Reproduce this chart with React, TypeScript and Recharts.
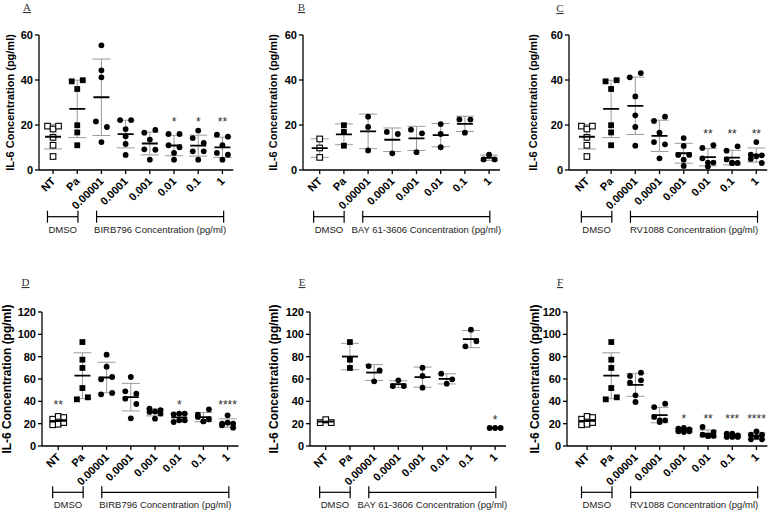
import React from "react"
import { ComposedChart, ErrorBar, Scatter, XAxis, YAxis } from "recharts"

const categories = ["NT", "Pa", "0.00001", "0.0001", "0.001", "0.01", "0.1", "1"]

// controls shared by A/C and D/F
const ntTop = [19.5, 18.2, 19.5, 14.5, 11.0, 6.0]
const paTop = [39.4, 39.9, 36.0, 19.9, 16.7, 11.0]
const ntBottom = [24.0, 26.5, 25.5, 19.0, 19.5, 21.0]
const paBottom = [93.1, 77.3, 69.9, 51.9, 41.8, 43.6]

const valuesA = [
  ntTop,
  paTop,
  [55.4, 44.3, 41.2, 21.6, 19.1, 12.4],
  [22.2, 22.2, 18.2, 15.0, 11.6, 6.7],
  [16.6, 17.8, 13.5, 9.2, 9.0, 4.6],
  [16.0, 16.0, 11.0, 10.1, 7.6, 4.6],
  [17.5, 14.2, 12.0, 8.3, 8.3, 4.6],
  [15.7, 14.8, 11.0, 7.6, 6.8, 4.6],
]
const valuesB = [
  [13.8, 9.8, 5.6],
  [19.9, 16.9, 10.8],
  [23.7, 19.1, 8.7],
  [16.9, 16.0, 7.4],
  [17.9, 16.3, 7.9],
  [20.4, 16.0, 10.1],
  [22.5, 22.4, 16.6],
  [4.7, 6.8, 4.7],
]
const valuesC = [
  ntTop,
  paTop,
  [41.2, 43.1, 32.7, 24.3, 19.1, 10.8],
  [21.8, 23.7, 16.6, 12.4, 11.4, 5.2],
  [14.2, 10.7, 6.7, 4.6, 6.7, 1.8],
  [9.8, 11.0, 5.2, 3.3, 3.3, 1.5],
  [8.6, 10.5, 4.7, 3.1, 3.1, 3.1],
  [12.4, 6.8, 6.1, 6.5, 4.9, 3.1],
]
const valuesD = [
  ntBottom,
  paBottom,
  [81.8, 71.0, 59.7, 61.8, 46.3, 47.5],
  [61.8, 49.0, 46.9, 42.4, 37.6, 24.8],
  [30.5, 33.4, 31.0, 29.0, 32.0, 24.5],
  [28.4, 29.0, 29.0, 21.5, 23.0, 23.0],
  [28.1, 32.8, 26.0, 22.1, 22.1, 23.9],
  [20.0, 27.5, 20.9, 18.5, 20.0, 16.4],
]
const valuesE = [
  [20.9, 23.6, 20.9],
  [93.1, 77.3, 69.9],
  [71.6, 67.8, 57.9],
  [53.7, 58.8, 53.7],
  [70.1, 62.7, 52.2],
  [55.8, 64.8, 59.7],
  [104.2, 89.3, 93.7],
  [16.1, 16.1, 16.1],
]
const valuesF = [
  ntBottom,
  paBottom,
  [62.7, 65.7, 56.7, 58.8, 45.4, 39.4],
  [34.9, 37.9, 26.0, 21.5, 23.0, 23.0],
  [15.5, 16.1, 14.9, 13.1, 12.5, 13.1],
  [10.1, 17.0, 12.5, 9.0, 9.0, 9.0],
  [11.0, 11.0, 9.6, 8.1, 8.1, 8.1],
  [10.1, 13.1, 10.1, 6.0, 8.1, 6.0],
]

const sigA = ["", "", "", "", "", "*", "*", "**"]
const sigB = ["", "", "", "", "", "", "", ""]
const sigC = ["", "", "", "", "", "**", "**", "**"]
const sigD = ["**", "", "", "", "", "*", "", "****"]
const sigE = ["", "", "", "", "", "", "", "*"]
const sigF = ["", "", "", "", "*", "**", "***", "****"]

const yTicksTop = [0, 20, 40, 60]
const yTicksBottom = [0, 20, 40, 60, 80, 100, 120]

const STEP = 24.2
const D1 = 7.45
const YW = 44
const MT = 8
const MR = 8
const XH = 48
const SPACING = 5.5

const ROWS = {
  top: { plotTop: 35, plotH: 135, yMax: 60, yTicks: yTicksTop, labelSize: 11, bracketY: 216.7, textY: 232.5 },
  bottom: { plotTop: 312, plotH: 134, yMax: 120, yTicks: yTicksBottom, labelSize: 12, bracketY: 492.3, textY: 508 },
}

type PanelCfg = {
  letter: string
  values: number[][]
  sig: string[]
  drug: string
  row: "top" | "bottom"
  axisX: number
  d0: number
  labelDist: number
  letterX: number
  letterY: number
}

const panels: PanelCfg[] = [
  { letter: "A", values: valuesA, sig: sigA, drug: "BIRB796 Concentration (pg/ml)", row: "top", axisX: 39, d0: -0.58, labelDist: 29, letterX: 27, letterY: 11 },
  { letter: "B", values: valuesB, sig: sigB, drug: "BAY 61-3606 Concentration (pg/ml)", row: "top", axisX: 302.5, d0: -0.69, labelDist: 30, letterX: 301.5, letterY: 11 },
  { letter: "C", values: valuesC, sig: sigC, drug: "RV1088 Concentration (pg/ml)", row: "top", axisX: 569, d0: -0.74, labelDist: 36, letterX: 560, letterY: 12 },
  { letter: "D", values: valuesD, sig: sigD, drug: "BIRB796 Concentration (pg/ml)", row: "bottom", axisX: 42, d0: -0.67, labelDist: 35, letterX: 25.5, letterY: 286 },
  { letter: "E", values: valuesE, sig: sigE, drug: "BAY 61-3606 Concentration (pg/ml)", row: "bottom", axisX: 309.5, d0: -0.65, labelDist: 36, letterX: 302, letterY: 286 },
  { letter: "F", values: valuesF, sig: sigF, drug: "RV1088 Concentration (pg/ml)", row: "bottom", axisX: 567, d0: -0.83, labelDist: 32, letterX: 560, letterY: 286 },
]

const mean = (v: number[]) => v.reduce((a, b) => a + b, 0) / v.length
const sd = (v: number[]) => {
  const m = mean(v)
  return Math.sqrt(v.reduce((a, b) => a + (b - m) * (b - m), 0) / (v.length - 1))
}

// prism-like scatter: points close in y share a row and are spread sideways
function spread(vals: number[], pxPerUnit: number): number[] {
  const order = vals.map((_, i) => i).sort((a, b) => vals[b] - vals[a])
  const dx = vals.map(() => 0)
  let row: number[] = []
  const flush = () => {
    const r = [...row].sort((a, b) => a - b)
    const k = r.length
    r.forEach((idx, j) => {
      let off = j - (k - 1) / 2
      if (k === 2) off *= 2
      dx[idx] = off * SPACING
    })
    row = []
  }
  order.forEach((idx) => {
    if (row.length && ((vals[row[0]] - vals[idx]) * pxPerUnit > 6 || row.length >= 3)) flush()
    row.push(idx)
  })
  if (row.length) flush()
  return dx
}

const renderPoint = (props: any) => {
  const { cx, cy, payload } = props
  const x = cx + payload.dx
  if (payload.x === 0)
    return <rect x={x - 2.8} y={cy - 2.8} width={5.6} height={5.6} fill="#fff" stroke="#000" strokeWidth={1.1} />
  if (payload.x === 1) return <rect x={x - 2.9} y={cy - 2.9} width={5.8} height={5.8} fill="#000" />
  return <circle cx={x} cy={cy} r={2.9} fill="#000" />
}

const renderMean = (props: any) => {
  const { cx, cy } = props
  return <line x1={cx - 8} x2={cx + 8} y1={cy} y2={cy} stroke="#000" strokeWidth={1.8} />
}

const renderSig = (props: any) => {
  const { cx, cy, payload } = props
  return (
    <text x={cx} y={cy - 4.5} textAnchor="middle" fontSize={12} fill="#333">
      {payload.label}
    </text>
  )
}

const XTick = (props: any) => {
  const { x, y, payload } = props
  const ex = x + 3
  const ey = y + 6
  return (
    <text x={ex} y={ey} transform={`rotate(-45, ${ex}, ${ey})`} textAnchor="end" fontSize={11} fontWeight="bold" fill="#000">
      {categories[payload.value]}
    </text>
  )
}

function Panel({ p }: { p: PanelCfg }) {
  const r = ROWS[p.row]
  const pxPerUnit = r.plotH / r.yMax
  const plotW = (D1 - p.d0) * STEP
  const points = p.values.flatMap((vals, i) => {
    const dx = spread(vals, pxPerUnit)
    return vals.map((v, j) => ({ x: i, y: v, dx: dx[j] }))
  })
  const summary = p.values.map((vals, i) => ({ x: i, y: mean(vals), sd: sd(vals) }))
  const starY = Math.max(0, ...p.sig.map((s, i) => (s ? Math.max(...p.values[i]) : 0)))
  const sigRows = p.sig.map((s, i) => ({ x: i, y: starY, label: s })).filter((d) => d.label)
  const axisStyle = { stroke: "#000", strokeWidth: 1.3 }

  return (
    <div style={{ position: "absolute", left: p.axisX - YW, top: r.plotTop - MT }}>
      <ComposedChart width={YW + plotW + MR} height={MT + r.plotH + XH} margin={{ top: MT, right: MR, bottom: 0, left: 0 }}>
        <XAxis
          type="number"
          dataKey="x"
          domain={[p.d0, D1]}
          ticks={[0, 1, 2, 3, 4, 5, 6, 7]}
          interval={0}
          height={XH}
          tickSize={4}
          axisLine={axisStyle}
          tickLine={axisStyle}
          tick={(t: any) => <XTick {...t} />}
          allowDataOverflow
        />
        <YAxis
          type="number"
          dataKey="y"
          domain={[0, r.yMax]}
          ticks={r.yTicks}
          interval={0}
          width={YW}
          tickSize={4}
          axisLine={axisStyle}
          tickLine={axisStyle}
          tick={{ fontSize: 11, fontWeight: "bold", fill: "#000" }}
          label={{
            value: "IL-6 Concentration (pg/ml)",
            angle: -90,
            position: "insideLeft",
            offset: YW - p.labelDist,
            style: { textAnchor: "middle", fontWeight: "bold", fontSize: r.labelSize, fill: "#000" },
          }}
        />
        <Scatter data={points} shape={renderPoint} isAnimationActive={false} />
        <Scatter data={summary} shape={renderMean} isAnimationActive={false}>
          <ErrorBar dataKey="sd" direction="y" width={9} stroke="#9a9a9a" strokeWidth={1} />
        </Scatter>
        <Scatter data={sigRows} shape={renderSig} isAnimationActive={false} />
      </ComposedChart>
    </div>
  )
}

function Annotations() {
  return (
    <svg width={777} height={513} style={{ position: "absolute", left: 0, top: 0 }}>
      {panels.map((p) => {
        const r = ROWS[p.row]
        const px = (i: number) => p.axisX + (i - p.d0) * STEP
        const by = r.bracketY
        const spans = [
          { a: px(-0.23), b: px(1.03), text: "DMSO" },
          { a: px(1.8), b: px(7.05), text: p.drug },
        ]
        return (
          <g key={p.letter}>
            <text x={p.letterX} y={p.letterY} textAnchor="middle" fontSize={11} fill="#333" fontFamily="Liberation Serif, serif" textDecoration="underline">
              {p.letter}
            </text>
            {spans.map((s) => (
              <g key={s.text}>
                <line x1={s.a} x2={s.b} y1={by} y2={by} stroke="#000" strokeWidth={1.2} />
                <line x1={s.a} x2={s.a} y1={by - 6} y2={by + 6} stroke="#000" strokeWidth={1.2} />
                <line x1={s.b} x2={s.b} y1={by - 6} y2={by + 6} stroke="#000" strokeWidth={1.2} />
                <text x={(s.a + s.b) / 2} y={r.textY} textAnchor="middle" fontSize={9.5} fill="#222">
                  {s.text}
                </text>
              </g>
            ))}
          </g>
        )
      })}
    </svg>
  )
}

export default function App() {
  return (
    <div
      style={{
        position: "absolute",
        left: 0,
        top: 0,
        width: 777,
        height: 513,
        background: "#fff",
        fontFamily: "Liberation Sans, Arial, sans-serif",
      }}
    >
      <Annotations />
      {panels.map((p) => (
        <Panel key={p.letter} p={p} />
      ))}
    </div>
  )
}
